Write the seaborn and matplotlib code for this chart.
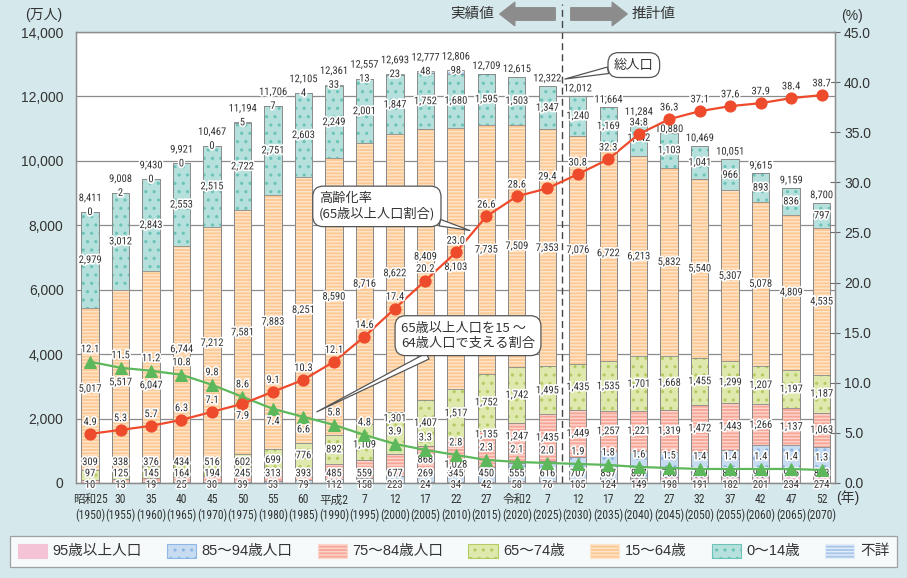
import numpy as np
import matplotlib
matplotlib.use('Agg')
import matplotlib.pyplot as plt
import matplotlib.patheffects as pe
from matplotlib import font_manager
from matplotlib.patches import Patch, FancyArrowPatch
import seaborn as sns

# ---- data (万人 / %) ----
era_labels = ['昭和25', '30', '35', '40', '45', '50', '55', '60', '平成2', '7', '12', '17',
              '22', '27', '令和2', '7', '12', '17', '22', '27', '32', '37', '42', '47', '52']
ad_years = [1950, 1955, 1960, 1965, 1970, 1975, 1980, 1985, 1990, 1995, 2000, 2005, 2010,
            2015, 2020, 2025, 2030, 2035, 2040, 2045, 2050, 2055, 2060, 2065, 2070]

pop_95_over = [0, 0, 0, 0, 0, 0, 0, 0, 0, 0, 0, 24, 34, 42, 58, 76, 105, 124, 149, 198, 191,
               182, 201, 234, 274]
# until 2000 this column holds the whole 85+ population
pop_85_94 = [10, 13, 19, 25, 30, 39, 53, 79, 112, 158, 223, 269, 345, 450, 555, 616, 707,
             857, 857, 760, 770, 853, 970, 945, 843]
pop_75_84 = [97, 125, 145, 164, 194, 245, 313, 393, 485, 559, 677, 868, 1028, 1135, 1247,
             1435, 1449, 1257, 1221, 1319, 1472, 1443, 1266, 1137, 1063]
pop_65_74 = [309, 338, 376, 434, 516, 602, 699, 776, 892, 1109, 1301, 1407, 1517, 1752,
             1742, 1495, 1435, 1535, 1701, 1668, 1455, 1299, 1207, 1197, 1187]
pop_15_64 = [5017, 5517, 6047, 6744, 7212, 7581, 7883, 8251, 8590, 8716, 8622, 8409, 8103,
             7735, 7509, 7353, 7076, 6722, 6213, 5832, 5540, 5307, 5078, 4809, 4535]
pop_0_14 = [2979, 3012, 2843, 2553, 2515, 2722, 2751, 2603, 2249, 2001, 1847, 1752, 1680,
            1595, 1503, 1347, 1240, 1169, 1142, 1103, 1041, 966, 893, 836, 797]
pop_unknown = [0, 2, 0, 0, 0, 5, 7, 4, 33, 13, 23, 48, 98, None, None, None, None, None,
               None, None, None, None, None, None, None]
pop_total = [8411, 9008, 9430, 9921, 10467, 11194, 11706, 12105, 12361, 12557, 12693, 12777,
             12806, 12709, 12615, 12322, 12012, 11664, 11284, 10880, 10469, 10051, 9615,
             9159, 8700]

aging_rate = [4.9, 5.3, 5.7, 6.3, 7.1, 7.9, 9.1, 10.3, 12.1, 14.6, 17.4, 20.2, 23.0, 26.6,
              28.6, 29.4, 30.8, 32.3, 34.8, 36.3, 37.1, 37.6, 37.9, 38.4, 38.7]
support_ratio = [12.1, 11.5, 11.2, 10.8, 9.8, 8.6, 7.4, 6.6, 5.8, 4.8, 3.9, 3.3, 2.8, 2.3,
                 2.1, 2.0, 1.9, 1.8, 1.6, 1.5, 1.4, 1.4, 1.4, 1.4, 1.3]

legend_names = ['95歳以上人口', '85～94歳人口', '75～84歳人口', '65～74歳', '15～64歳',
                '0～14歳', '不詳']

# ---- style ----
BG = '#d5e9ed'
TXT = '#333333'
RED = '#ee4a2c'
GRN = '#5cb85a'
# face colour, hatch colour, hatch (bottom -> top)
layer_style = [
    ('#f4c3d6', '#f4c3d6', None),
    ('#c7dcf1', '#8fb7e3', '..'),
    ('#f6a596', '#fcd6cd', '-----'),
    ('#dfe9ad', '#b2cb63', '..'),
    ('#fcc894', '#fee4c8', '-----'),
    ('#b6e0db', '#6cc3b9', '..'),
    ('#a7c4e8', '#e3edf9', '-----'),
]
red_below = {5}
green_below = {6, 7}
SCALE = 14000 / 45  # right-axis % -> left-axis 万人


def pick_font(candidates, fallback):
    names = {f.name for f in font_manager.fontManager.ttflist}
    for c in candidates:
        if c in names:
            return c, True
    return fallback, False


def dodge(y, marker, above_lab):
    """Move a bar label off a rate marker and its value label (left-axis units)."""
    lo, hi = marker - 330, above_lab + 350
    if lo < y < hi:
        return above_lab + 420 if hi - y < y - lo else marker - 300
    return y


NARROW, is_narrow = pick_font(['Liberation Sans Narrow', 'Roboto Condensed',
                               'Open Sans Condensed'], 'Liberation Sans')
NUM_SIZE = 7.6 if is_narrow else 6.8
CJK = 'Noto Sans CJK JP'

sns.set_style('white')
plt.rcParams['font.family'] = ['Liberation Sans', CJK, 'DejaVu Sans']
plt.rcParams['hatch.linewidth'] = 1.1

fig = plt.figure(figsize=(9.07, 5.78), dpi=100, facecolor=BG)
ax = fig.add_axes([76 / 907, 1 - 483 / 578, (835 - 76) / 907, 451 / 578])
ax.set_facecolor('white')

pos = np.arange(len(era_labels))
unknown_vals = [0 if v is None else v for v in pop_unknown]
layers = [pop_95_over, pop_85_94, pop_75_84, pop_65_74, pop_15_64, pop_0_14, unknown_vals]
cum = np.cumsum(np.array(layers, dtype=float), axis=0)
BAR_W = 0.57

# stacked bars: draw cumulative heights from top layer down
for i in reversed(range(len(layers))):
    face, hcol, hatch = layer_style[i]
    sns.barplot(x=pos, y=cum[i], color=face, saturation=1, width=BAR_W, errorbar=None,
                hatch=hatch, edgecolor=hcol, linewidth=0, ax=ax, zorder=2)
for i in range(len(layers)):
    sns.barplot(x=pos, y=cum[i], color='#8a8a8a', fill=False, width=BAR_W, errorbar=None,
                linewidth=0.6, ax=ax, zorder=3)

ax.set_ylim(0, 14000)
ax.set_yticks(np.arange(0, 14001, 2000))
ax.set_yticklabels([f'{v:,}' for v in range(0, 14001, 2000)], fontsize=10, color=TXT)
ax.yaxis.grid(True, color='#8c8c8c', lw=0.9)
ax.set_axisbelow(True)
ax.tick_params(axis='y', length=0, pad=9)
ax.set_xticks(pos)
ax.set_xticklabels([f'{e}\n({y})' for e, y in zip(era_labels, ad_years)],
                   fontsize=8.4, color=TXT, family=[NARROW, CJK])
for t in ax.get_xticklabels():
    t.set_linespacing(1.25)
ax.tick_params(axis='x', length=0, pad=7.5)
ax.set_xlabel('')
ax.set_ylabel('')
for s in ax.spines.values():
    s.set_color('#8c8c8c')
    s.set_linewidth(0.9)

stroke = [pe.withStroke(linewidth=2.4, foreground='white')]


def num_label(axis, x, y, text, dy=0):
    axis.annotate(text, (x, y), xytext=(0, dy), textcoords='offset points', ha='center',
                  va='center', fontsize=NUM_SIZE, color=TXT, family=[NARROW, CJK],
                  path_effects=stroke, zorder=6, annotation_clip=False)


# segment labels
for j in pos:
    g_mark = support_ratio[j] * SCALE
    g_lab = (support_ratio[j] + 1.2) * SCALE
    r_mark = aging_rate[j] * SCALE
    r_lab = (aging_rate[j] + 1.1) * SCALE
    small = [(layers[k][j], cum[k][j] - layers[k][j] / 2) for k in range(4) if layers[k][j] > 0]
    prev = None
    for n, (val, mid) in enumerate(small):
        if n == 0:
            y = -55
        elif n == 1:
            y = 300
        elif n == 2:
            y = dodge(max(mid, 650), g_mark, g_lab)
        else:
            y = dodge(max(mid, prev + 330), g_mark, g_lab)
        prev = y
        num_label(ax, j, y, f'{val:,}')
    mid = cum[4][j] - pop_15_64[j] / 2
    lo, hi = g_mark - 400, g_lab + 400
    if lo < mid < hi:
        mid = g_lab + 420 if hi - mid < mid - lo else g_mark - 450
    lo, hi = r_mark - 250, r_lab + 250
    if lo < mid < hi:
        mid = r_lab + 400 if hi - mid < mid - lo else r_mark - 450
    num_label(ax, j, mid, f'{pop_15_64[j]:,}')
    num_label(ax, j, cum[5][j] - pop_0_14[j] / 2, f'{pop_0_14[j]:,}')
    if pop_unknown[j] is not None:
        num_label(ax, j, cum[6][j], f'{pop_unknown[j]:,}')
        num_label(ax, j, cum[6][j], f'{pop_total[j]:,}', dy=10)
    else:
        tight = abs((cum[6][j] + 236) - r_mark) < 1.2 * SCALE
        num_label(ax, j, cum[6][j], f'{pop_total[j]:,}', dy=2.5 if tight else 5.5)

# rate lines on the right axis
ax2 = ax.twinx()
sns.lineplot(x=pos, y=support_ratio, color=GRN, marker='^', markersize=9,
             markeredgecolor=GRN, lw=1.6, ax=ax2, zorder=4)
sns.lineplot(x=pos, y=aging_rate, color=RED, marker='o', markersize=8,
             markeredgecolor=RED, lw=1.6, ax=ax2, zorder=5)
ax2.set_ylim(0, 45)
ax2.set_yticks(np.arange(0, 45.1, 5))
ax2.set_yticklabels([f'{v:.1f}' for v in np.arange(0, 45.1, 5)], fontsize=10, color=TXT)
ax2.tick_params(axis='y', direction='inout', length=7, color='#6a6a6a', pad=3)
ax2.set_ylabel('')
for s in ax2.spines.values():
    s.set_color('#8c8c8c')
    s.set_linewidth(0.9)

for j in pos:
    num_label(ax2, j, aging_rate[j], f'{aging_rate[j]:.1f}', dy=-8.5 if j in red_below else 8.5)
    num_label(ax2, j, support_ratio[j], f'{support_ratio[j]:.1f}',
              dy=-9 if j in green_below else 9)

ax.set_xlim(-0.46, 24.44)

# boundary between actual and projected values
ax.axvline(15.5, ymin=0, ymax=(483 - 4) / 451, color='#444444', lw=1.0, ls=(0, (5, 3)),
           clip_on=False, zorder=7)

# callouts
box = dict(boxstyle='round,pad=0.45,rounding_size=0.8', fc='white', ec='#555555', lw=0.9)
wedge = dict(arrowstyle='wedge,tail_width=0.5,shrink_factor=0.5', fc='white', ec='#555555',
             lw=0.9, shrinkA=0, shrinkB=0)
ax2.annotate('総人口', xy=(15.58, 12541 / SCALE), xytext=(17.84, 41.7), ha='center',
             va='center', fontsize=9.5, color=TXT, family=CJK, bbox=box, arrowprops=wedge,
             zorder=8)
ax2.annotate('高齢化率\n(65歳以上人口割合)', xy=(12.46, 25.2), xytext=(9.41, 27.6),
             ha='center', va='center', multialignment='left', fontsize=9.5, color=TXT,
             family=CJK, bbox=box, arrowprops=wedge, zorder=8)
ax2.annotate('65歳以上人口を15 ～\n64歳人口で支える割合', xy=(7.44, 7.1), xytext=(12.4, 14.7),
             ha='center', va='center', multialignment='left', fontsize=9.5, color=TXT,
             family=CJK, bbox=box, arrowprops=wedge, zorder=8)

# header band
fig.text(472 / 907, 1 - 14 / 578, '実績値', ha='center', va='center', fontsize=10.5,
         color=TXT, family=CJK)
fig.text(654 / 907, 1 - 14 / 578, '推計値', ha='center', va='center', fontsize=10.5,
         color=TXT, family=CJK)
arrow_kw = dict(arrowstyle='simple,head_length=0.9,head_width=1.4,tail_width=0.75',
                mutation_scale=12, color='#8c8c8c', transform=fig.transFigure)
fig.add_artist(FancyArrowPatch((558 / 907, 1 - 14 / 578), (497 / 907, 1 - 14 / 578), **arrow_kw))
fig.add_artist(FancyArrowPatch((568 / 907, 1 - 14 / 578), (630 / 907, 1 - 14 / 578), **arrow_kw))

fig.text(44 / 907, 1 - 15 / 578, '(万人)', ha='center', va='center', fontsize=10, color=TXT)
fig.text(852 / 907, 1 - 16 / 578, '(%)', ha='center', va='center', fontsize=10, color=TXT)
fig.text(848 / 907, 1 - 498 / 578, '(年)', ha='center', va='center', fontsize=10, color=TXT)

handles = [Patch(facecolor=f, edgecolor=h, hatch=hh, linewidth=0.8) for f, h, hh in layer_style]
leg = fig.legend(handles, legend_names, loc='center', bbox_to_anchor=(453.5 / 907, 1 - 551 / 578),
                 ncol=7, frameon=True, fancybox=False, edgecolor='#8c8c8c', fontsize=10.5,
                 handlelength=2.0, handleheight=1.1, columnspacing=1.7, handletextpad=0.4,
                 borderpad=0.55)
leg.get_frame().set_linewidth(0.9)
for t in leg.get_texts():
    t.set_color(TXT)

fig.savefig('out.png', dpi=100, facecolor=BG)
